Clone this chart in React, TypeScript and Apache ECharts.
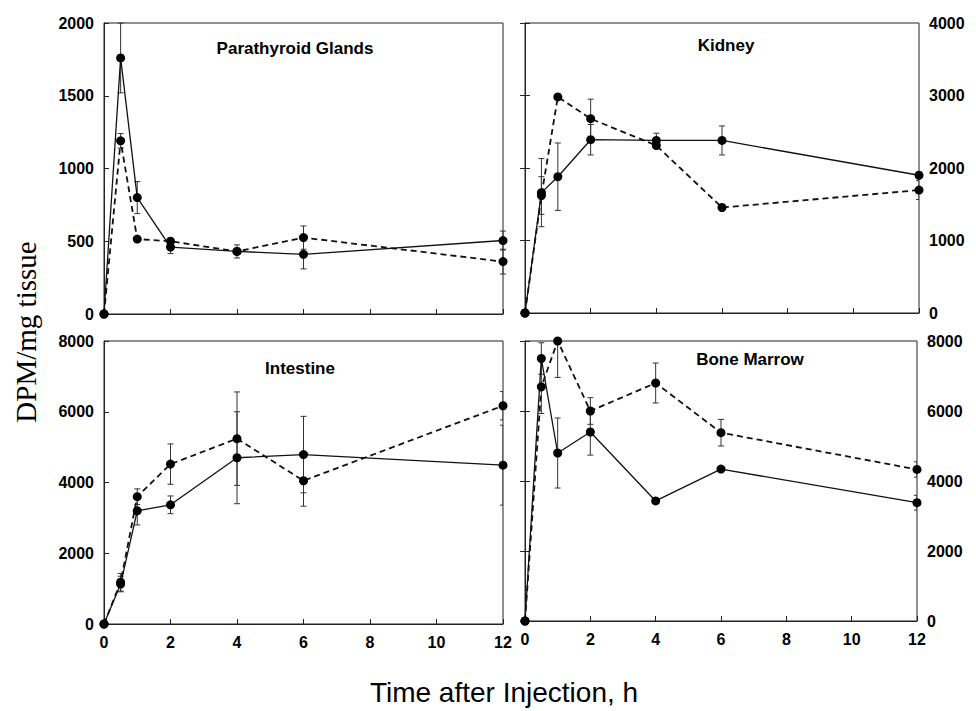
import React, { useEffect, useRef } from "react";
import * as echarts from "echarts";

// Time points (h)
const hours = [0, 0.5, 1, 2, 4, 6, 12];

// Parathyroid Glands
const parathyroidSolid = [0, 1760, 800, 460, 430, 410, 505];
const parathyroidSolidSD = [0, 240, 110, 45, 45, 100, 65];
const parathyroidDashed = [0, 1190, 515, 500, 430, 525, 360];
const parathyroidDashedSD = [0, 50, 0, 0, 0, 80, 85];

// Kidney
const kidneySolid = [0, 1660, 1880, 2390, 2380, 2380, 1900];
const kidneySolidSD = [0, 470, 465, 210, 100, 200, 0];
const kidneyDashed = [0, 1620, 2980, 2680, 2310, 1455, 1695];
const kidneyDashedSD = [0, 260, 0, 270, 0, 0, 130];

// Intestine
const intestineSolid = [0, 1130, 3200, 3370, 4700, 4790, 4490];
const intestineSolidSD = [0, 220, 400, 250, 1300, 1080, 1130];
const intestineDashed = [0, 1180, 3600, 4520, 5240, 4050, 6170];
const intestineDashedSD = [0, 250, 220, 570, 1320, 720, 400];

// Bone Marrow
const marrowSolid = [0, 7500, 4800, 5400, 3430, 4340, 3380];
const marrowSolidSD = [0, 450, 1000, 660, 0, 0, 210];
const marrowDashed = [0, 6690, 8000, 6000, 6800, 5380, 4330];
const marrowDashedSD = [0, 760, 1040, 380, 570, 380, 220];

const panelTitles = ["Parathyroid Glands", "Kidney", "Intestine", "Bone Marrow"];
const yMax = [2000, 4000, 8000, 8000];
const yStep = [500, 1000, 2000, 2000];
const xTitle = "Time after Injection, h";
const yTitle = "DPM/mg tissue";

const SANS = "'Liberation Sans', Arial, Helvetica, sans-serif";
const SERIF = "'Liberation Serif', 'Times New Roman', serif";

export default function App() {
  const ref = useRef<HTMLDivElement>(null);

  useEffect(() => {
    if (!ref.current) return;
    const chart = echarts.init(ref.current, undefined, { renderer: "svg" });

    const grids = [
      { left: 104, top: 23, width: 399, height: 291 },
      { left: 525, top: 23, width: 394, height: 290 },
      { left: 104, top: 341, width: 399, height: 283 },
      { left: 525, top: 341, width: 392, height: 280 },
    ];

    const labelStyle = {
      color: "#000",
      fontFamily: SANS,
      fontWeight: "bold" as const,
      fontSize: 16,
      formatter: (v: number) => String(v),
    };

    const xAxes = grids.map((_, i) => ({
      type: "value",
      gridIndex: i,
      min: 0,
      max: 12,
      interval: 2,
      axisLine: { show: true, lineStyle: { color: "#222", width: 1 } },
      axisTick: { show: true, inside: true, length: 5, lineStyle: { color: "#222" } },
      axisLabel: { show: i >= 2, ...labelStyle, margin: 10 },
      splitLine: { show: false },
    }));

    const mainY = grids.map((_, i) => ({
      type: "value",
      gridIndex: i,
      min: 0,
      max: yMax[i],
      interval: yStep[i],
      position: i % 2 === 1 ? "right" : "left",
      axisLine: { show: true, lineStyle: { color: "#222", width: 1 } },
      axisTick: { show: true, inside: true, length: 5, lineStyle: { color: "#222" } },
      axisLabel: { ...labelStyle, margin: 10 },
      splitLine: { show: false },
    }));
    const extraY = [1, 3].map((i) => ({
      type: "value",
      gridIndex: i,
      min: 0,
      max: yMax[i],
      interval: yStep[i],
      position: "left",
      axisLine: { show: true, lineStyle: { color: "#222", width: 1 } },
      axisTick: { show: true, inside: true, length: 5, lineStyle: { color: "#222" } },
      axisLabel: { show: false },
      splitLine: { show: false },
    }));

    const panels = [
      [parathyroidSolid, parathyroidSolidSD, parathyroidDashed, parathyroidDashedSD],
      [kidneySolid, kidneySolidSD, kidneyDashed, kidneyDashedSD],
      [intestineSolid, intestineSolidSD, intestineDashed, intestineDashedSD],
      [marrowSolid, marrowSolidSD, marrowDashed, marrowDashedSD],
    ];

    const errRender = (params: any, api: any) => {
      const x = api.value(0);
      const lo = api.value(1);
      const hi = api.value(2);
      const top = api.coord([x, hi]);
      const bot = api.coord([x, lo]);
      const w = 3;
      const st = { stroke: "#333", lineWidth: 1 };
      return {
        type: "group",
        children: [
          { type: "line", shape: { x1: top[0], y1: top[1], x2: bot[0], y2: bot[1] }, style: st },
          { type: "line", shape: { x1: top[0] - w, y1: top[1], x2: top[0] + w, y2: top[1] }, style: st },
          { type: "line", shape: { x1: bot[0] - w, y1: bot[1], x2: bot[0] + w, y2: bot[1] }, style: st },
        ],
      };
    };

    const series: any[] = [];
    panels.forEach(([solid, solidSD, dashed, dashedSD], i) => {
      const errData: number[][] = [];
      hours.forEach((h, k) => {
        if (solidSD[k] > 0) errData.push([h, solid[k] - solidSD[k], solid[k] + solidSD[k]]);
        if (dashedSD[k] > 0) errData.push([h, dashed[k] - dashedSD[k], dashed[k] + dashedSD[k]]);
      });
      series.push({
        type: "custom",
        xAxisIndex: i,
        yAxisIndex: i,
        renderItem: errRender,
        data: errData,
        encode: { x: 0, y: [1, 2] },
        clip: i !== 0,
        z: 1,
        silent: true,
      });
      series.push({
        type: "line",
        xAxisIndex: i,
        yAxisIndex: i,
        data: hours.map((h, k) => [h, solid[k]]),
        symbol: "circle",
        symbolSize: 9,
        itemStyle: { color: "#000" },
        lineStyle: { color: "#111", width: 1.3, type: "solid" },
        clip: false,
        z: 3,
      });
      series.push({
        type: "line",
        xAxisIndex: i,
        yAxisIndex: i,
        data: hours.map((h, k) => [h, dashed[k]]),
        symbol: "circle",
        symbolSize: 9,
        itemStyle: { color: "#000" },
        lineStyle: { color: "#111", width: 1.8, type: [6, 4] },
        clip: false,
        z: 3,
      });
    });

    const titlePos = [
      [295, 48],
      [726, 45],
      [300, 368],
      [750, 359],
    ];

    const graphics: any[] = panelTitles.map((t, i) => ({
      type: "text",
      x: titlePos[i][0],
      y: titlePos[i][1],
      style: {
        text: t,
        fontFamily: SANS,
        fontWeight: "bold",
        fontSize: 17,
        fill: "#000",
        textAlign: "center",
        textVerticalAlign: "middle",
      },
    }));
    graphics.push({
      type: "text",
      x: 504,
      y: 692,
      style: {
        text: xTitle,
        fontFamily: SANS,
        fontSize: 28,
        fill: "#000",
        textAlign: "center",
        textVerticalAlign: "middle",
      },
    });
    graphics.push({
      type: "text",
      x: 26,
      y: 332,
      rotation: Math.PI / 2,
      style: {
        text: yTitle,
        fontFamily: SERIF,
        fontSize: 29,
        fill: "#000",
        textAlign: "center",
        textVerticalAlign: "middle",
      },
    });

    chart.setOption({
      animation: false,
      backgroundColor: "#fff",
      grid: grids.map((g) => ({ ...g, show: true, borderColor: "#222", borderWidth: 1, backgroundColor: "transparent" })),
      xAxis: xAxes,
      yAxis: [...mainY, ...extraY],
      series,
      graphic: graphics,
    });

    return () => chart.dispose();
  }, []);

  return (
    <div
      ref={ref}
      style={{ position: "fixed", left: 0, top: 0, width: 976, height: 711, background: "#fff" }}
    />
  );
}
